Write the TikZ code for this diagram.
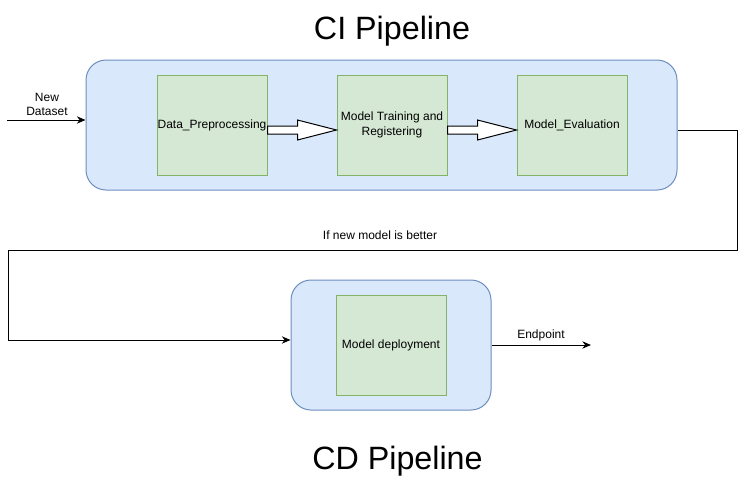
\documentclass[tikz,border=0pt]{standalone}
\usepackage{fontspec}
\setmainfont{Liberation Sans}
\usepackage{xcolor}
\usepackage{tikz}
\usetikzlibrary{calc,arrows.meta}
\definecolor{stagefill}{HTML}{DAE8FC}
\definecolor{stageline}{HTML}{6C8EBF}
\definecolor{taskfill}{HTML}{D5E8D4}
\definecolor{taskline}{HTML}{82B366}
\tikzset{
  stage/.style={draw=stageline, fill=stagefill, line width=0.75pt, rounded corners=15pt,
    minimum width=#1, minimum height=97.5pt, inner sep=0pt},
  task/.style={draw=taskline, fill=taskfill, line width=0.75pt, minimum width=82.5pt,
    minimum height=75pt, inner sep=0pt, align=center, font=\fontsize{9}{11}\selectfont},
  flow/.style={draw=black, line width=0.75pt, -{Stealth[length=6.5pt,width=5.5pt]}},
  blockarr/.style={draw=black, fill=white, line width=0.75pt, line join=miter},
  lab/.style={text=black, align=center, font=\fontsize{9}{11}\selectfont, inner sep=0pt},
  title/.style={text=black, font=\fontsize{24.2}{29}\selectfont, inner sep=0pt}
}
\newcommand{\blockarrow}[2]{%
  \draw[blockarr] ($(#1.east)+(0,1)$) -- ++(30,0) -- ++(0,-6) -- ($(#2.west)+(0,5)$)
    -- ($(#1.east)+(30,15)$) -- ++(0,-6) -- ($(#1.east)+(0,9)$) -- cycle;}

\begin{document}
\begin{tikzpicture}[x=0.75pt, y=-0.75pt]
  \useasboundingbox (0,0) rectangle (746,490);
  % CI stage
  \node[stage=443.25pt] (ci) at (381.5,125) {};
  \node[task] (pre) at (212,125) {Data\_Preprocessing};
  \node[task] (train) at (392,125) {Model Training and\\Registering};
  \node[task] (eval) at (572,125) {Model\_Evaluation};
  \blockarrow{pre}{train}
  \blockarrow{train}{eval}
  \node[title] (citxt) at (392,31) {CI Pipeline};
  % input
  \coordinate (src) at (7,120);
  \draw[flow] (src) -- (src -| ci.west);
  \node[lab] (srctxt) at (47,104.5) {New\\Dataset};
  % CD stage
  \node[stage=150pt] (cd) at (391,345) {};
  \node[task] (deploy) at (391,345) {Model deployment};
  \node[title] (cdtxt) at (397.5,461) {CD Pipeline};
  % CI -> CD
  \coordinate (turnR) at (737,250);
  \coordinate (turnL) at (8,340);
  \draw[flow] ($(ci.east)+(0,5)$) -| (turnR) -| (turnL) -- ($(cd.west)+(0,-5)$);
  \node[lab] (condtxt) at (380,235) {If new model is better};
  % output
  \coordinate (endp) at (591,345);
  \draw[flow] (cd.east) -- (endp);
  \node[lab] (endtxt) at (541,335) {Endpoint};
\end{tikzpicture}
\end{document}
